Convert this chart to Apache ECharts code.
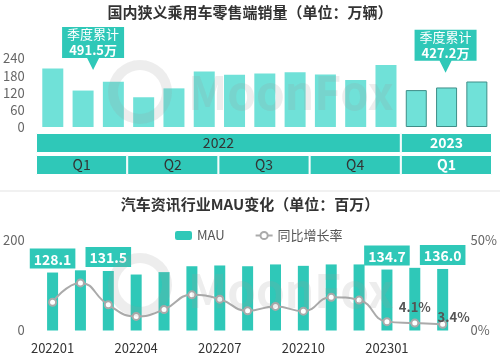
<!DOCTYPE html>
<html><head><meta charset="utf-8">
<script src="https://cdn.jsdelivr.net/npm/echarts@6/dist/echarts.min.js"></script>
<style>html,body{margin:0;padding:0;background:#fff}#c{width:500px;height:356px}</style>
</head><body><div id="c"></div>
<script>
// ---- data ----
const months = ['202201','202202','202203','202204','202205','202206','202207','202208','202209','202210','202211','202212','202301','202302','202303'];
const salesValues = [205.2,127.7,158.6,104.2,135.4,194.3,183.5,187.4,192.2,183.8,165.1,216.9,129.3,138.5,159.4];
const salesTicks = [0,60,120,180,240];
const yearLabels = ['2022','2023'];
const yearSpans = [12,3];
const quarterLabels = ['Q1','Q2','Q3','Q4','Q1'];
const quarterSpans = [3,3,3,3,3];
const calloutQuarterStart = [0,12];
const calloutAnchorIndex = [1,13];
const calloutTipValue = [200,190];
const mauValues = [128.1,133.0,131.5,123.7,129.0,142.0,143.7,142.0,146.0,142.9,146.0,146.0,134.7,138.5,136.0];
const yoyValues = [15.6,26.3,14.2,7.8,11.6,19.7,17.3,10.9,13.3,10.7,18.4,16.8,4.9,4.1,3.4];
const mauLabelIdx = [0,2,12,14];
const yoyLabelIdx = [13,14];

const FONT = '"Noto Sans CJK SC","Noto Sans",sans-serif';
const BAR_LIGHT = '#70E1D8';
const TEAL = '#2FC8B8';

// ---- build ----
const salesData = salesValues.map((v,i)=> i>=12 ? {value:v,itemStyle:{borderColor:'#3E8E88',borderWidth:1}} : v);
const calloutPath = 'path://M0,0L62,0L62,31L37,31L31,43L25,31L0,31Z';
const markData = calloutQuarterStart.map((s,k)=>{
  const sum = salesValues.slice(s,s+3).reduce((a,b)=>a+b,0);
  return {
    coord:[calloutAnchorIndex[k], calloutTipValue[k]],
    symbolOffset:[k===0?10:-1,'-50%'],
    label:{formatter:'季度累计\n{b|'+sum.toFixed(1)+'万}'}
  };
});

const bandSeries = [];
for (let i=0;i<quarterSpans.length;i++){
  const last = i===quarterSpans.length-1;
  const q = {value:quarterSpans[i], name:quarterLabels[i],
    label:{color:last?'#fff':'#333', fontWeight:last?'bold':'normal'}};
  let y = '-';
  if (i<yearSpans.length){
    const ylast = i===yearSpans.length-1;
    y = {value:yearSpans[i], name:yearLabels[i],
      label:{color:ylast?'#fff':'#333', fontWeight:ylast?'bold':'normal'}};
  }
  bandSeries.push({type:'bar', xAxisIndex:1, yAxisIndex:1, stack:'band', barWidth:20,
    data:[q,y], silent:true,
    itemStyle:{color:TEAL, borderColor:'#fff', borderWidth:1},
    label:{show:true, position:'inside', formatter:'{b}', fontSize:14, fontFamily:FONT}});
}

const mauData = mauValues.map((v,i)=> mauLabelIdx.includes(i) ? {value:v, label:{show:true}} : v);
const yoyData = yoyValues.map((v,i)=>{
  if (!yoyLabelIdx.includes(i)) return v;
  const isLast = i===yoyValues.length-1;
  return {value:v, label:{show:true, offset:isLast?[11,9]:[0,0]}};
});

const chart = echarts.init(document.getElementById('c'), null, {renderer:'canvas'});
chart.setOption({
  animation:false,
  textStyle:{fontFamily:FONT},
  title:[
    {text:'国内狭义乘用车零售端销量（单位：万辆）', left:'center', top:0,
     textStyle:{fontSize:15, fontWeight:'bold', color:'#333', fontFamily:FONT}},
    {text:'汽车资讯行业MAU变化（单位：百万）', left:'center', top:192,
     textStyle:{fontSize:15, fontWeight:'bold', color:'#333', fontFamily:FONT}}
  ],
  legend:{left:170, top:224, itemWidth:17, itemHeight:9, itemGap:30,
    textStyle:{fontSize:13, color:'#555', fontFamily:FONT},
    data:['MAU','同比增长率']},
  grid:[
    {left:36, right:8, top:58.5, bottom:229},
    {left:36, right:8, top:132, height:44},
    {left:36, right:40, top:240, bottom:25.5}
  ],
  xAxis:[
    {type:'category', gridIndex:0, data:months, axisLine:{show:false}, axisTick:{show:false}, axisLabel:{show:false}},
    {type:'value', gridIndex:1, min:0, max:15, show:false},
    {type:'category', gridIndex:2, data:months, axisLine:{show:false}, axisTick:{show:false},
     axisLabel:{interval:2, fontSize:13, color:'#333', margin:11, fontFamily:FONT}}
  ],
  yAxis:[
    {type:'value', gridIndex:0, min:salesTicks[0], max:salesTicks[salesTicks.length-1], interval:60,
     splitLine:{show:false}, axisLine:{show:false}, axisTick:{show:false},
     axisLabel:{fontSize:13, color:'#666', margin:13, fontFamily:FONT}},
    {type:'category', gridIndex:1, data:['q','y'], show:false},
    {type:'value', gridIndex:2, min:0, max:200, interval:200, splitLine:{show:false},
     axisLine:{show:false}, axisTick:{show:false},
     axisLabel:{fontSize:13, color:'#666', margin:14, fontFamily:FONT}},
    {type:'value', gridIndex:2, min:0, max:50, interval:50, position:'right', splitLine:{show:false},
     axisLine:{show:false}, axisTick:{show:false},
     axisLabel:{fontSize:13, color:'#666', margin:14, formatter:'{value}%', fontFamily:FONT}}
  ],
  series:[
    {type:'bar', name:'sales', xAxisIndex:0, yAxisIndex:0, data:salesData, barWidth:21,
     itemStyle:{color:BAR_LIGHT},
     markPoint:{symbol:calloutPath, symbolSize:[62,43], symbolKeepAspect:false,
       itemStyle:{color:TEAL},
       label:{show:true, position:'inside', offset:[0,-6], color:'#fff', fontSize:13, lineHeight:16,
         fontFamily:FONT, rich:{b:{fontSize:13, fontWeight:'bold', color:'#fff', fontFamily:FONT}}},
       data:markData}},
    ...bandSeries,
    {type:'bar', name:'MAU', xAxisIndex:2, yAxisIndex:2, data:mauData, barWidth:11,
     itemStyle:{color:TEAL},
     label:{show:false, position:'top', distance:4, formatter:p=>p.value.toFixed(1),
       backgroundColor:TEAL, padding:[4,4,2,4], color:'#fff', fontSize:14, fontWeight:'bold', fontFamily:FONT}},
    {type:'line', name:'同比增长率', xAxisIndex:2, yAxisIndex:3, data:yoyData, smooth:true,
     symbol:'circle', symbolSize:7, showAllSymbol:true,
     lineStyle:{color:'#aaa', width:2}, itemStyle:{color:'#fff', borderColor:'#aaa', borderWidth:2},
     label:{show:false, position:'top', formatter:p=>p.value.toFixed(1)+'%', fontSize:13, fontWeight:'bold',
       color:'#555', fontFamily:FONT}, z:5}
  ],
  graphic:[
    {type:'line', shape:{x1:0,y1:191,x2:500,y2:191}, style:{stroke:'#e3e3e3', lineWidth:1}},
    {type:'ring', shape:{cx:140, cy:92, r:32, r0:22}, style:{fill:'#999', opacity:0.18}, z:100, silent:true},
    {type:'text', x:188, y:70, style:{text:'MoonFox', fontSize:46, fontWeight:'bold', fill:'#999', opacity:0.18, fontFamily:FONT}, z:100, silent:true},
    {type:'ring', shape:{cx:140, cy:285, r:32, r0:22}, style:{fill:'#999', opacity:0.18}, z:100, silent:true},
    {type:'text', x:188, y:268, style:{text:'MoonFox', fontSize:46, fontWeight:'bold', fill:'#999', opacity:0.18, fontFamily:FONT}, z:100, silent:true}
  ]
});
</script></body></html>
